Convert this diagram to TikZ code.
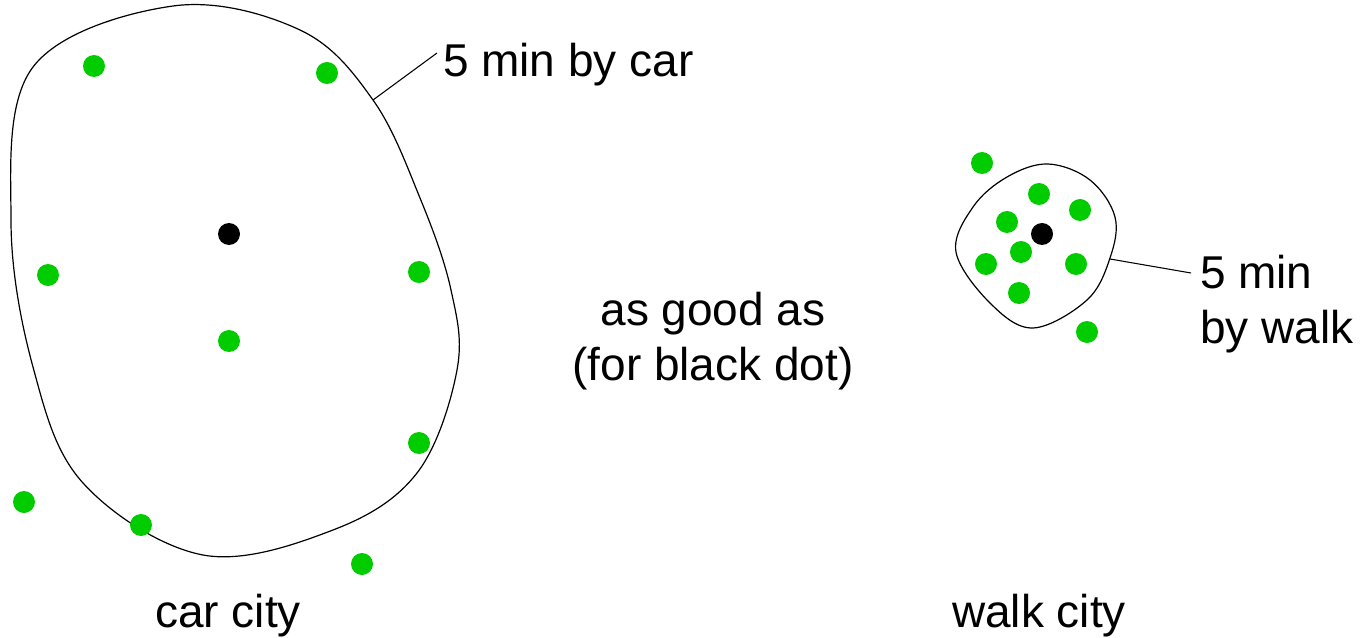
\documentclass[tikz,border=0pt]{standalone}
\usepackage{fontspec}
\setmainfont{Liberation Sans}
\definecolor{dotgreen}{RGB}{0,204,0}
\begin{document}
\begin{tikzpicture}[x=0.75pt,y=-0.75pt,
  gdot/.style={circle,fill=dotgreen,inner sep=0pt,minimum size=16.5pt},
  bdot/.style={circle,fill=black,inner sep=0pt,minimum size=16.5pt},
  blob/.style={draw=black,line width=0.9pt},
  leader/.style={draw=black,line width=0.8pt},
  lbl/.style={font=\fontsize{34.5}{41.25}\selectfont,inner sep=0pt,outer sep=0pt}]
\useasboundingbox (0,0) rectangle (1364,638);
% big blob
\draw[blob] plot[smooth cycle,tension=0.6] coordinates{
 (173,6) (300,30) (373,100) (420,198) (451,290) (457,370) (417,473)
 (333,530) (203,555) (83,483) (33,367) (11,220) (33,67)};
% small blob
\draw[blob] plot[smooth cycle,tension=0.6] coordinates{
 (1048,164) (1090,180) (1115,217) (1110,258) (1087,300) (1033,328)
 (990,303) (956,252) (973,207) (1007,177)};
% car city dots
\node[gdot] (c1) at (94,66) {};
\node[gdot] (c2) at (327,73) {};
\node[bdot] (cb) at (229,234) {};
\node[gdot] (c3) at (48,275) {};
\node[gdot] (c4) at (419,272) {};
\node[gdot] (c5) at (229,341) {};
\node[gdot] (c6) at (419,443) {};
\node[gdot] (c7) at (24,502) {};
\node[gdot] (c8) at (141,525) {};
\node[gdot] (c9) at (362,564) {};
% walk city dots
\node[gdot] (w1) at (982,163) {};
\node[gdot] (w2) at (1039,194) {};
\node[gdot] (w3) at (1080,210) {};
\node[gdot] (w4) at (1007,222) {};
\node[bdot] (wb) at (1042,234) {};
\node[gdot] (w5) at (1021,252) {};
\node[gdot] (w6) at (986,264) {};
\node[gdot] (w7) at (1076,264) {};
\node[gdot] (w8) at (1019,293) {};
\node[gdot] (w9) at (1087,332) {};
% labels
\node[lbl,anchor=base west] (carlbl) at (443,77) {5 min by car};
\coordinate (carpt) at (373,100);
\draw[leader] (carpt) -- (437,53) coordinate (carend);
\node[lbl,anchor=base west] (walk1) at (1200,288) {5 min};
\node[lbl,anchor=base west] (walk2) at (1200,343) {by walk};
\coordinate (walkpt) at (1110,259);
\draw[leader] (walkpt) -- (1191,273) coordinate (walkend);
\node[lbl,anchor=base] (mid1) at (713,325) {as good as};
\node[lbl,anchor=base] (mid2) at (713,380) {(for black dot)};
\node[lbl,anchor=base] (carcity) at (228,627) {car city};
\node[lbl,anchor=base] (walkcity) at (1039,627) {walk city};
\end{tikzpicture}
\end{document}
